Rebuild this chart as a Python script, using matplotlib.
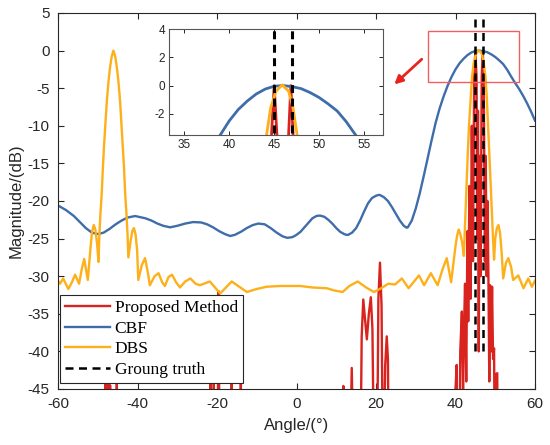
import matplotlib
matplotlib.use("Agg")
import matplotlib.pyplot as plt
from matplotlib.patches import Rectangle

# ---------------- data ----------------
cbf_x = [-60, -58, -56, -54.5, -53, -51.5, -49.9, -48.5, -47, -45.5, -44, -42.5,
         -40.6, -38, -36.5, -35, -33.5, -31.8, -30, -28, -26, -24, -22.5, -21,
         -19.5, -18, -16.7, -15.5, -14, -12.5, -11, -9.6, -8, -6.5, -5, -3.5,
         -2.3, -1, 0, 1, 2, 3, 4, 5, 5.5, 6, 7, 8, 9, 10, 11, 12, 12.6, 13, 14,
         15, 16, 17, 18, 19, 20, 20.6, 21, 22, 23, 24, 25, 26, 27, 27.7, 28, 29,
         30, 31, 32, 33, 34, 35, 36, 37, 38, 39, 40, 41, 42, 43, 44, 45, 46, 47,
         48, 49, 50, 51, 52, 53, 54, 55, 56, 57, 58, 59, 60]
cbf_y = [-20.6, -21.2, -22.0, -22.8, -23.6, -24.2, -24.4, -24.2, -23.7, -23.1,
         -22.6, -22.2, -22.0, -22.3, -22.6, -23.0, -23.3, -23.5, -23.3, -23.0,
         -22.8, -22.85, -23.1, -23.5, -24.0, -24.4, -24.65, -24.5, -24.1, -23.6,
         -23.2, -23.0, -23.1, -23.6, -24.2, -24.7, -24.9, -24.8, -24.5, -24.1,
         -23.5, -22.9, -22.3, -22.0, -21.95, -21.95, -22.1, -22.5, -23.0, -23.6,
         -24.1, -24.4, -24.5, -24.5, -24.2, -23.6, -22.6, -21.4, -20.3, -19.6,
         -19.3, -19.2, -19.2, -19.5, -20.0, -20.8, -21.7, -22.6, -23.3, -23.55,
         -23.5, -22.6, -21.0, -19.0, -16.7, -14.3, -11.9, -9.6, -7.7, -6.1, -4.7,
         -3.5, -2.5, -1.7, -1.1, -0.6, -0.25, -0.05, 0.0, -0.08, -0.22, -0.5,
         -0.85, -1.3, -1.8, -2.55, -3.45, -4.3, -5.1, -6.0, -7.0, -8.1, -9.3]

dbs_x = [-60.0, -59.5, -58.7, -57.4, -56.5, -55.7, -54.7, -54.0, -53.4, -52.5,
         -51.7, -51.4, -51.0, -50.6, -50.2, -49.8, -49.6, -49.3, -49.0, -48.7,
         -48.4, -48.0, -47.7, -47.3, -46.9, -46.5, -46.05, -45.6, -45.2, -44.8,
         -44.4, -44.1, -43.7, -43.4, -43.1, -42.8, -42.5, -42.3, -41.7, -41.3,
         -40.9, -40.5, -40.1, -39.8, -38.9, -38.1, -37.4, -36.9, -35.7, -34.7,
         -33.8, -33.1, -32.2, -31.3, -30.3, -29.3, -28.0, -26.7, -25.4, -24.3,
         -21.8, -19.2, -16.3, -12.5, -10, -7.5, -4, 0.9, 4, 7.6, 9.5, 11.6, 13.3,
         15.4, 17.5, 19.5, 21.3, 23.1, 24.8, 26.5, 28.2, 30.8, 32.1, 33.8, 35.5,
         36.8, 37.8, 38.9, 40.0, 40.4, 40.8, 41.2, 41.7, 42.1, 42.3, 42.5, 42.8,
         43.1, 43.4, 43.8, 44.15, 44.6, 45.2, 45.9, 46.6, 47.1, 47.55, 47.9, 48.2,
         48.5, 48.8, 49.1, 49.4, 49.7, 50.0, 50.4, 50.8, 51.2, 51.6, 52.0, 52.7,
         53.3, 54.0, 54.5, 55.8, 57.1, 58.3, 59.2, 60]
dbs_y = [-30.6, -31.0, -30.3, -31.7, -30.8, -29.8, -31.0, -29.0, -27.7, -30.5,
         -25.5, -24.0, -23.2, -23.8, -25.5, -28.1, -24.5, -21.5, -19.0, -15.5,
         -12.5, -9.2, -6.6, -4.1, -2.2, -0.8, 0.0, -0.8, -2.2, -4.1,
         -6.6, -9.2, -12.5, -15.5, -19.0, -21.5, -24.5, -27.5, -25.2, -24.0,
         -23.6, -24.4, -26.5, -30.5, -28.5, -27.6, -29.5, -31.2, -30.0, -29.6,
         -30.8, -31.3, -30.1, -29.8, -30.8, -31.5, -30.7, -30.3, -31.0, -31.2,
         -30.7, -32.3, -30.7, -32.1, -31.7, -31.4, -31.3, -31.3, -31.5, -31.6,
         -31.9, -32.1, -31.3, -30.7, -31.5, -32.1, -31.6, -31.0, -31.1, -30.3,
         -31.6, -29.9, -31.2, -29.6, -31.2, -29.0, -27.6, -30.8, -26.0, -24.6,
         -23.8, -24.4, -25.6, -27.3, -24.5, -21.5, -17.2, -13.5, -10.0, -6.5,
         -3.5, -1.6, -0.4, 0.05, -0.4, -1.6, -3.5, -6.5, -10.0, -13.5, -17.2,
         -21.0, -24.5, -27.8, -25.0, -23.6, -23.2, -24.2, -26.8, -30.3, -28.2,
         -27.6, -28.8, -30.5, -29.9, -31.6, -30.3, -31.4, -30.6]

prop_x = [-60, -48.3, -48.1, -47.9, -47.7, -47.5, -47.3, -47.1, -46.9, -46.7,
          -45.4, -45.2, -45.0, -21.8, -21.6, -21.4, -21.0, -20.8, -20.6, -19.9,
          -19.6, -19.3, -16.5, -16.3, -16.1, -14.2, -14.0, -13.8, 11.6, 11.8,
          12.0, 13.3, 13.9, 14.5, 16.0, 16.4, 16.8, 17.2, 17.7, 18.2, 18.7, 19.1,
          19.6, 20.2, 20.6, 21.0, 21.4, 21.8, 22.3, 22.7, 23.0, 23.3, 39.7, 40.0,
          40.3, 40.5, 40.9, 41.2, 41.6, 41.9, 42.1, 42.4, 42.7, 43.0, 43.2, 43.5,
          43.8, 44.1, 44.4, 44.7, 45.0, 45.3, 45.45, 45.65, 45.85, 46.05, 46.3,
          46.6, 46.85, 47.1, 47.4, 47.6, 47.85, 48.05, 48.3, 48.5, 48.7, 48.95,
          49.2, 49.45, 49.7, 49.95, 50.2, 50.5, 50.7, 60]
prop_y = [-60, -60, -44.3, -60, -44.3, -60, -44.3, -60, -44.5, -60,
          -60, -44.2, -60, -60, -44.3, -60, -60, -44.3, -60, -60,
          -32.0, -60, -60, -44.3, -60, -60, -44.3, -60, -60, -44.6,
          -60, -60, -42.2, -60, -60, -38.0, -33.1, -35.5, -38.4, -35.0, -32.8, -37.0,
          -60, -60, -33.0, -28.2, -34.0, -60, -42.0, -38.0, -41.0, -60, -60, -45.0,
          -41.8, -60, -60, -40.0, -34.7, -45.0, -38.0, -31.0, -44.0, -24.0, -36.0, -18.0,
          -33.0, -10.0, -28.0, -3.5, 0.0, -3.5, -25.0, -8.0, -40.0, -14.0, -30.0,
          -3.5, 0.0, -3.5, -28.0, -14.0, -30.0, -20.0, -31.0, -44.0, -31.2, -40.0,
          -31.4, -41.0, -39.6, -60, -43.0, -42.9, -60, -60]

truth_angles = [45, 47]
truth_low = -40

labels = ["Proposed Method", "CBF", "DBS", "Groung truth"]

# ---------------- style ----------------
C_RED = "#D8231F"
C_BLUE = "#3F6DAA"
C_ORANGE = "#FDB01A"
C_AX = "#262626"

plt.rcParams["font.family"] = ["Liberation Sans", "DejaVu Sans"]
plt.rcParams["axes.unicode_minus"] = False

fig = plt.figure(figsize=(5.5, 4.45), dpi=100)
ax = fig.add_axes([58 / 550, 56 / 445, 477 / 550, 376 / 445])

lw = 1.7
l1, = ax.plot(prop_x, prop_y, color=C_RED, lw=lw)
l2, = ax.plot(cbf_x, cbf_y, color=C_BLUE, lw=lw)
l3, = ax.plot(dbs_x, dbs_y, color=C_ORANGE, lw=lw)
l4 = None
for a in truth_angles:
    l4, = ax.plot([a, a], [truth_low, 5], color="black", lw=1.8,
                  ls=(0, (3.2, 2.2)))

ax.set_xlim(-60, 60)
ax.set_ylim(-45, 5)
ax.set_xticks(range(-60, 61, 20))
ax.set_yticks(range(-45, 6, 5))
ax.tick_params(direction="in", top=True, right=True, length=4, width=0.8,
               labelsize=11, colors=C_AX, pad=6)
for s in ax.spines.values():
    s.set_color(C_AX)
    s.set_linewidth(0.8)
ax.set_xlabel("Angle/(°)", fontsize=12, color=C_AX, labelpad=5)
ax.set_ylabel("Magnitude/(dB)", fontsize=12, color=C_AX, labelpad=3)

# zoom box and arrow
ax.add_patch(Rectangle((33.2, -4.18), 22.85, 6.83, fill=False,
                       edgecolor="#F06060", lw=1.0, zorder=5))
ax.annotate("", xy=(24.6, -4.5), xytext=(31.5, -1.15),
            arrowprops=dict(arrowstyle="-|>", color="#E8231F", lw=2,
                            mutation_scale=12, shrinkA=0, shrinkB=0))

leg = ax.legend([l1, l2, l3, l4], labels, loc="lower left",
                bbox_to_anchor=(0.004, 0.016), borderaxespad=0,
                prop={"family": "Liberation Serif", "size": 12.5},
                fancybox=False, edgecolor=C_AX, framealpha=1,
                handlelength=2.6, handletextpad=0.25, labelspacing=0.25,
                borderpad=0.3)
leg.get_frame().set_linewidth(0.8)

# inset
ins = fig.add_axes([169 / 550, (445 - 135) / 445, 214 / 550, 106 / 445])
ins.plot(prop_x, prop_y, color=C_RED, lw=2)
ins.plot(cbf_x, cbf_y, color=C_BLUE, lw=2)
ins.plot(dbs_x, dbs_y, color=C_ORANGE, lw=2)
for a in truth_angles:
    ins.plot([a, a], [-10, 10], color="black", lw=2.2, ls=(0, (2.6, 1.8)))
ins.set_xlim(33.3, 57.1)
ins.set_ylim(-3.5, 4)
ins.set_xticks([35, 40, 45, 50, 55])
ins.set_yticks([-2, 0, 2, 4])
ins.tick_params(direction="in", top=True, right=True, length=3, width=0.7,
                labelsize=8.5, colors=C_AX, pad=3)
for s in ins.spines.values():
    s.set_color("#555555")
    s.set_linewidth(0.8)

fig.savefig("out.png", dpi=100)
